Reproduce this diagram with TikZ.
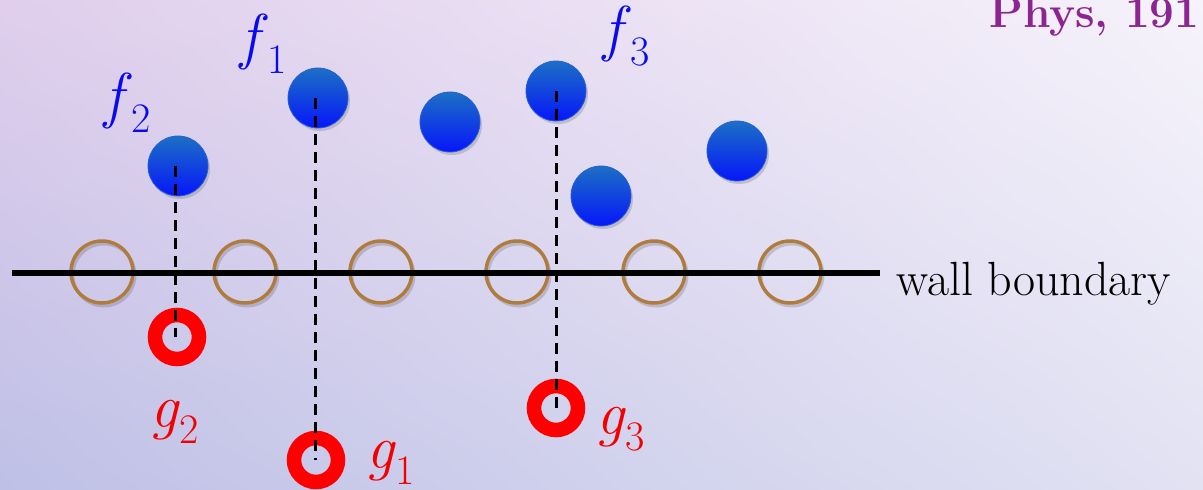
\documentclass[tikz,border=0pt]{standalone}
\usepackage{fontspec}
\usetikzlibrary{shadows,shadings}
\definecolor{bgUL}{RGB}{224,206,236}
\definecolor{bgUR}{RGB}{246,243,251}
\definecolor{bgLL}{RGB}{190,192,230}
\definecolor{bgLR}{RGB}{226,226,243}
\definecolor{ballTop}{RGB}{28,112,196}
\definecolor{ballBot}{RGB}{6,22,250}
\definecolor{ballRim}{RGB}{40,95,215}
\definecolor{ringBrown}{RGB}{176,124,62}
\definecolor{physPurple}{RGB}{140,36,146}
\definecolor{labBlue}{RGB}{10,10,240}
\definecolor{labRed}{RGB}{245,0,0}
\newcommand\mylbl[2]{\textit{#1}\raisebox{-16pt}{\fontsize{42}{46}\selectfont #2}}
\tikzset{
  ball/.style={circle, minimum size=60pt, inner sep=0pt, top color=ballTop, bottom color=ballBot,
    draw=ballRim, line width=0.8pt,
    drop shadow={shadow xshift=2pt, shadow yshift=-3pt, opacity=0.35}},
  wallring/.style={circle, minimum size=62pt, inner sep=0pt, draw=ringBrown, line width=3.5pt,
    drop shadow={shadow xshift=2pt, shadow yshift=-3pt, opacity=0.15, fill=none, draw=black, line width=3pt}},
  redring/.style={circle, minimum size=44pt, inner sep=0pt, draw=red, line width=14.5pt},
  flabel/.style={anchor=base west, inner sep=0pt, text=labBlue, font=\rmfamily\fontsize{62}{70}\selectfont},
  glabel/.style={anchor=base west, inner sep=0pt, text=labRed, font=\rmfamily\fontsize{62}{70}\selectfont},
  dropline/.style={black, line width=3pt, dash pattern=on 11pt off 7pt},
  wall/.style={black, line width=6pt}
}
\begin{document}
\begin{tikzpicture}[x=1pt, y=-1pt]
\useasboundingbox (0,0) rectangle (1203,490);
\clip (0,0) rectangle (1203,490);
\shade[upper left=bgUL, upper right=bgUR, lower left=bgLL, lower right=bgLR] (0,0) rectangle (1203,490);
% title fragment
\node[anchor=base west, inner sep=0pt, text=physPurple, font=\rmfamily\bfseries\fontsize{44}{48}\selectfont] (phys) at (989,27) {Phys, 191};
% wall rings
\node[wallring] (w1) at (102,272) {};
\node[wallring] (w2) at (245,272) {};
\node[wallring] (w3) at (381,272) {};
\node[wallring] (w4) at (517,272) {};
\node[wallring] (w5) at (654,272) {};
\node[wallring] (w6) at (790,272) {};
% wall line
\coordinate (wl) at (12,273);
\coordinate (wr) at (880,273);
\draw[wall] (wl) -- (wr);
\node[anchor=base west, inner sep=0pt, font=\rmfamily\fontsize{48}{54}\selectfont] (wt) at (896,295) {wall boundary};
% balls
\node[ball] (f2) at (178,166) {};
\node[ball] (f1) at (318,98) {};
\node[ball] (b4) at (450,122) {};
\node[ball] (f3) at (556,91) {};
\node[ball] (b5) at (601,196) {};
\node[ball] (b6) at (737,151) {};
% red rings
\node[redring] (g2) at (177,337) {};
\node[redring] (g1) at (316,460) {};
\node[redring] (g3) at (556,408) {};
% dashed drop lines
\draw[dropline] ([xshift=-3pt]f2.center) -- ([xshift=-2pt]g2.center);
\draw[dropline] ([xshift=-3pt]f1.center) -- ([xshift=-1pt]g1.center);
\draw[dropline] (f3.center) -- (g3.center);
% labels
\node[flabel] (lf2) at (104,116) {\mylbl{f}{2}};
\node[flabel] (lf1) at (240,57) {\mylbl{f}{1}};
\node[flabel] (lf3) at (603,49) {\mylbl{f}{3}};
\node[glabel] (lg2) at (150,427) {\mylbl{g}{2}};
\node[glabel] (lg1) at (366,468) {\mylbl{g}{1}};
\node[glabel] (lg3) at (596,434) {\mylbl{g}{3}};
\end{tikzpicture}
\end{document}
